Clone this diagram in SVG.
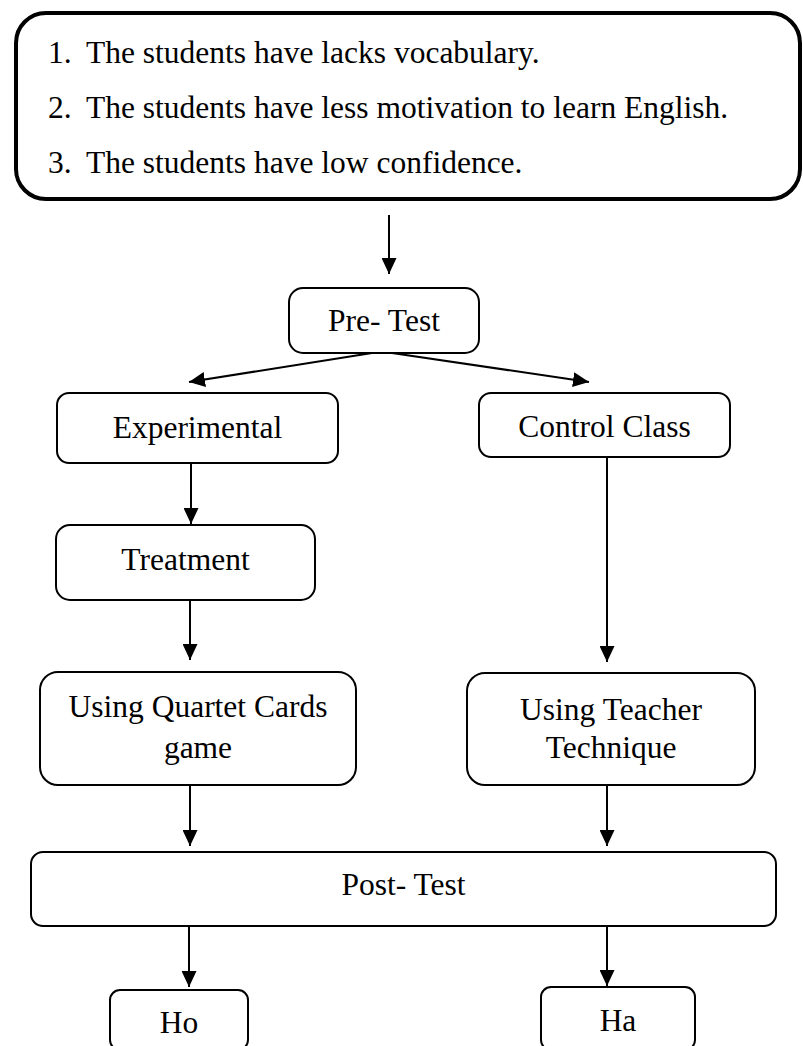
<svg xmlns="http://www.w3.org/2000/svg" width="803" height="1046" viewBox="0 0 803 1046">
<style>
text{font-family:"Liberation Serif","Times New Roman",serif;font-size:31.5px;fill:#000}
.c{text-anchor:middle}
.box{fill:#fff;stroke:#000;stroke-width:2}
.conn line{stroke:#000;stroke-width:2;marker-end:url(#ah)}
</style>
<defs>
<marker id="ah" markerUnits="userSpaceOnUse" markerWidth="16" markerHeight="15" refX="16" refY="7.5" orient="auto">
<path d="M0,0 L16,7.5 L0,15 z" fill="#000"/>
</marker>
</defs>
<rect width="803" height="1046" fill="#fff"/>
<g id="problems">
<rect x="16" y="13" width="784" height="186" rx="30" fill="#fff" stroke="#000" stroke-width="4"/>
<text x="48" y="63">1.</text><text x="86" y="63">The students have lacks vocabulary.</text>
<text x="48" y="118">2.</text><text x="86" y="118">The students have less motivation to learn English.</text>
<text x="48" y="173">3.</text><text x="86" y="173">The students have low confidence.</text>
</g>
<g class="conn" id="connectors">
<line x1="389" y1="215" x2="389" y2="274"/>
<line x1="372" y1="353" x2="189" y2="382"/>
<line x1="392" y1="353" x2="589" y2="382"/>
<line x1="191" y1="463" x2="191" y2="524"/>
<line x1="190" y1="600" x2="190" y2="660"/>
<line x1="607" y1="457" x2="607" y2="662"/>
<line x1="190" y1="785" x2="190" y2="846"/>
<line x1="607" y1="785" x2="607" y2="846"/>
<line x1="189" y1="926" x2="189" y2="987"/>
<line x1="607" y1="926" x2="607" y2="986"/>
</g>
<g id="pretest"><rect class="box" x="289" y="288" width="190" height="65" rx="14"/><text class="c" x="384" y="331">Pre- Test</text></g>
<g id="experimental"><rect class="box" x="57" y="393" width="281" height="70" rx="12"/><text class="c" x="197.5" y="438">Experimental</text></g>
<g id="control"><rect class="box" x="479" y="393" width="251" height="64" rx="12"/><text class="c" x="604.5" y="437">Control Class</text></g>
<g id="treatment"><rect class="box" x="56" y="525" width="259" height="75" rx="14"/><text class="c" x="185.5" y="570">Treatment</text></g>
<g id="quartet"><rect class="box" x="40" y="672" width="316" height="113" rx="18"/><text class="c" x="198" y="717">Using Quartet Cards</text><text class="c" x="198" y="758">game</text></g>
<g id="teacher"><rect class="box" x="467" y="673" width="288" height="112" rx="18"/><text class="c" x="611" y="720">Using Teacher</text><text class="c" x="611" y="758">Technique</text></g>
<g id="posttest"><rect class="box" x="31" y="852" width="745" height="74" rx="12"/><text class="c" x="403.5" y="895">Post- Test</text></g>
<g id="ho"><rect class="box" x="110" y="990" width="138" height="60" rx="10"/><text class="c" x="179" y="1033">Ho</text></g>
<g id="ha"><rect class="box" x="541" y="987" width="154" height="63" rx="10"/><text class="c" x="618" y="1031">Ha</text></g>
</svg>
